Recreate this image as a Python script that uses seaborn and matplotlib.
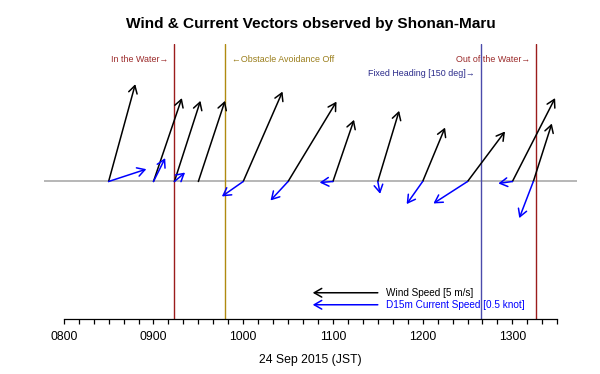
import matplotlib
matplotlib.use("Agg")
import matplotlib.pyplot as plt
import seaborn as sns
import numpy as np

# observation times (JST) and vectors
obs_times = ["08:30", "09:00", "09:14", "09:30", "10:00", "10:30",
             "11:00", "11:30", "12:00", "12:30", "13:00", "13:14"]
wind_u = [2.05, 2.18, 2.00, 2.05, 3.02, 3.72, 1.62, 1.64, 1.72, 2.88, 3.28, 1.42]   # m/s
wind_v = [7.49, 6.42, 6.21, 6.21, 6.92, 6.15, 4.75, 5.44, 4.15, 3.85, 6.42, 4.46]   # m/s
cur_u = [0.290, 0.090, 0.082, np.nan, -0.164, -0.135, -0.102, 0.018, -0.123, -0.262, -0.108, -0.108]  # knot
cur_v = [0.095, 0.180, 0.069, np.nan, -0.115, -0.146, -0.008, -0.095, -0.174, -0.169, -0.015, -0.282]  # knot

# event lines
event_times = ["09:14", "09:48", "12:39", "13:16"]
event_labels = ["In the Water→", "←Obstacle Avoidance Off",
                "Fixed Heading [150 deg]→", "Out of the Water→"]
event_colors = ["#9b1c1c", "#b08a10", "#4b4bab", "#9b1c1c"]
text_colors = ["#9b2a2a", "#9a7d1a", "#2a2a8a", "#9b2a2a"]

tick_hours = [8, 9, 10, 11, 12, 13]


def to_hours(s):
    h, m = s.split(":")
    return int(h) + int(m) / 60.0


WIND_SCALE = 0.7254 / 5.0   # axis units per m/s
CUR_SCALE = 0.7254 / 0.5    # axis units per knot

sns.set_theme(style="white")
plt.rcParams['font.family'] = ['Liberation Sans', 'DejaVu Sans']

fig = plt.figure(figsize=(6.0, 3.74), dpi=100)
ax = fig.add_axes([44 / 600, 1 - 319 / 374, 533 / 600, 275 / 374])
ax.set_xlim(7.78, 13.72)
ax.set_ylim(-1.535, 1.535)

ax.axhline(0, color="#aaaaaa", lw=1.2, zorder=1)

for t, lab, c, tc in zip(event_times, event_labels, event_colors, text_colors):
    x = to_hours(t)
    ax.axvline(x, color=c, lw=1.0, zorder=2)
    if lab.startswith("←"):
        ax.annotate(lab, xy=(x, 1.358), xytext=(4.5, 0), textcoords="offset points",
                    ha="left", va="center", fontsize=6.4, color=tc)
    elif lab.startswith("Fixed"):
        ax.annotate(lab, xy=(x, 1.21), xytext=(-4.5, 0), textcoords="offset points",
                    ha="right", va="center", fontsize=6.4, color=tc)
    else:
        ax.annotate(lab, xy=(x, 1.358), xytext=(-4.5, 0), textcoords="offset points",
                    ha="right", va="center", fontsize=6.4, color=tc)

head = "->,head_length=0.45,head_width=0.26"
for t, wu, wv, cu, cv in zip(obs_times, wind_u, wind_v, cur_u, cur_v):
    x = to_hours(t)
    ax.annotate("", xy=(x + wu * WIND_SCALE, wv * WIND_SCALE), xytext=(x, 0),
                arrowprops=dict(arrowstyle=head, color="black", lw=1.1,
                                shrinkA=0, shrinkB=0), zorder=3)
    if not np.isnan(cu):
        ax.annotate("", xy=(x + cu * CUR_SCALE, cv * CUR_SCALE), xytext=(x, 0),
                    arrowprops=dict(arrowstyle=head, color="blue", lw=1.1,
                                    shrinkA=0, shrinkB=0), zorder=4)

# scale legend
lx = to_hours("11:30")
for y, sc, val, c, lab in [(-1.242, WIND_SCALE, 5.0, "black", "Wind Speed [5 m/s]"),
                           (-1.376, CUR_SCALE, 0.5, "blue", "D15m Current Speed [0.5 knot]")]:
    ax.annotate("", xy=(lx - val * sc, y), xytext=(lx, y),
                arrowprops=dict(arrowstyle=head, color=c, lw=1.1, shrinkA=0, shrinkB=0))
    ax.annotate(lab, xy=(lx, y), xytext=(6.0, 0), textcoords="offset points",
                ha="left", va="center", fontsize=7.2, color=c)

# axis
for s in ["top", "right", "left"]:
    ax.spines[s].set_visible(False)
ax.spines["bottom"].set_bounds(8, 13.5)
ax.spines["bottom"].set_color("black")
ax.spines["bottom"].set_linewidth(0.9)
ax.set_yticks([])
ax.set_xticks(tick_hours)
ax.set_xticklabels([f"{h:02d}00" for h in tick_hours])
ax.set_xticks(np.arange(8, 13.5 + 1e-6, 1 / 6), minor=True)
ax.tick_params(axis="x", which="both", direction="out", length=3.6, width=0.9,
               color="black", bottom=True, labelsize=8.7, pad=4.8, labelcolor="black")
ax.set_xlabel("24 Sep 2015 (JST)", fontsize=8.8, labelpad=8.5, color="black")

fig.text(0.5175, 1 - 28.3 / 374, "Wind & Current Vectors observed by Shonan-Maru",
         ha="center", va="baseline", fontsize=11.05, fontweight="bold", color="black")

fig.savefig("out.png", dpi=100)
